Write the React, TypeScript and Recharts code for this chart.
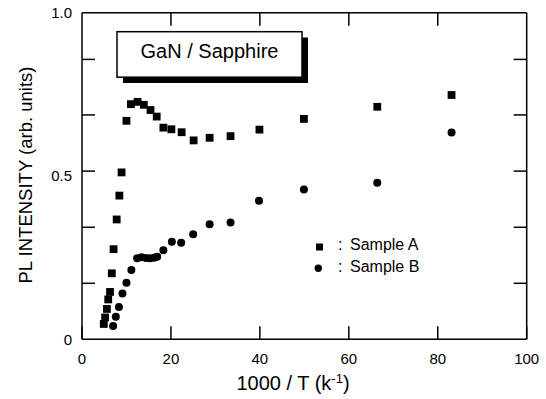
import React from 'react';
import { ScatterChart, Scatter, XAxis, YAxis, Customized } from 'recharts';

const F = '"Liberation Sans", Arial, Helvetica, sans-serif';

const xTicks = [0, 20, 40, 60, 80, 100];
const xMinorTicks = [20, 40, 60, 80];
const yLabelTicks = [0, 0.5, 1];
const yMarkTicks = [0.1715, 0.343, 0.515, 0.687, 0.857];

const sampleAx = [4.9, 5.2, 5.6, 5.9, 6.3, 6.7, 7.1, 7.8, 8.4, 8.9, 10.0, 11.0, 12.5, 13.9, 15.4, 16.8, 18.3, 20.1, 22.4, 25.1, 28.7, 33.4, 39.9, 49.9, 66.4, 83.1];
const sampleAy = [0.047, 0.067, 0.093, 0.122, 0.145, 0.202, 0.276, 0.367, 0.44, 0.511, 0.669, 0.72, 0.727, 0.718, 0.702, 0.682, 0.648, 0.643, 0.634, 0.609, 0.617, 0.622, 0.642, 0.675, 0.712, 0.748];
const sampleBx = [7.0, 7.6, 8.3, 9.1, 10.0, 11.1, 12.4, 13.4, 14.4, 15.3, 16.2, 16.9, 18.3, 20.2, 22.3, 25.0, 28.7, 33.4, 39.8, 49.9, 66.4, 83.1];
const sampleBy = [0.041, 0.069, 0.099, 0.14, 0.173, 0.212, 0.248, 0.251, 0.249, 0.248, 0.25, 0.253, 0.273, 0.299, 0.296, 0.322, 0.352, 0.358, 0.424, 0.459, 0.479, 0.633];

const seriesNames = ['Sample A', 'Sample B'];
const boxTitle = 'GaN / Sapphire';
const yTitle = 'PL INTENSITY (arb. units)';

const dataA = sampleAx.map((x, i) => ({ x, y: sampleAy[i] }));
const dataB = sampleBx.map((x, i) => ({ x, y: sampleBy[i] }));

const leftTicks = [...yLabelTicks, ...yMarkTicks].sort((a, b) => a - b);
const LEFT_MARGIN = 10;
const MARK_LEN = 13;

const SquareShape = (props: any) => {
  const { cx, cy } = props;
  if (cx == null || cy == null) return null;
  return <rect x={cx - 3.9} y={cy - 3.9} width={7.8} height={7.8} fill="#000" />;
};
const CircleShape = (props: any) => {
  const { cx, cy } = props;
  if (cx == null || cy == null) return null;
  return <circle cx={cx} cy={cy} r={4} fill="#000" />;
};

const noLabel = () => '';

const LeftTick = (props: any) => {
  const { x, y, payload } = props;
  const v = payload.value;
  if (yLabelTicks.includes(v)) {
    return (
      <text x={x} y={y} dy="0.355em" textAnchor="end" fill="#000" fontSize={15} fontFamily={F}>
        {v === 0 ? '0' : v.toFixed(1)}
      </text>
    );
  }
  const ax = x + LEFT_MARGIN;
  return <line x1={ax} x2={ax + MARK_LEN} y1={y} y2={y} stroke="#000" strokeWidth={1.5} />;
};

const Annotations = () => (
  <g fontFamily={F} fill="#000">
    <rect x={123} y={37.5} width={185} height={45.5} fill="#000" />
    <rect x={117} y={31.7} width={185} height={45.5} fill="#fff" stroke="#000" strokeWidth={1.5} />
    <text x={209.5} y={57.5} textAnchor="middle" fontSize={20}>{boxTitle}</text>

    <rect x={316} y={243.5} width={7} height={7} fill="#000" />
    <text x={338} y={250} fontSize={16}>:</text>
    <text x={350} y={250} fontSize={16}>{seriesNames[0]}</text>
    <circle cx={318.3} cy={268.3} r={3.7} fill="#000" />
    <text x={338} y={271.7} fontSize={16}>:</text>
    <text x={350} y={271.7} fontSize={16}>{seriesNames[1]}</text>

    <text x={32} y={175} textAnchor="middle" fontSize={18.5} transform="rotate(-90, 32, 175)">{yTitle}</text>
    <text x={293} y={390} textAnchor="middle" fontSize={20}>
      1000 / T (k<tspan fontSize={13} dy={-7}>-1</tspan><tspan dy={7}>)</tspan>
    </text>
  </g>
);

export default function App() {
  return (
    <div style={{ position: 'absolute', left: 0, top: 0, width: 546, height: 399 }}>
      <ScatterChart width={546} height={399} margin={{ top: 12.7, right: 19.3, bottom: 19.7, left: 22 }}>
        <XAxis
          xAxisId="b"
          type="number"
          dataKey="x"
          domain={[0, 100]}
          ticks={xTicks}
          interval={0}
          orientation="bottom"
          height={40}
          tickSize={-13}
          tickMargin={27}
          stroke="#000"
          strokeWidth={1.5}
          tick={{ fill: '#000', fontSize: 15, fontFamily: F }}
        />
        <XAxis
          xAxisId="t"
          type="number"
          dataKey="x"
          domain={[0, 100]}
          ticks={xMinorTicks}
          interval={0}
          orientation="top"
          mirror
          height={1}
          tickSize={13}
          stroke="#000"
          strokeWidth={1.5}
          tickFormatter={noLabel}
        />
        <YAxis
          yAxisId="l"
          type="number"
          dataKey="y"
          domain={[0, 1]}
          ticks={leftTicks}
          interval={0}
          width={60}
          tickSize={0}
          tickMargin={LEFT_MARGIN}
          stroke="#000"
          strokeWidth={1.5}
          tickLine={false}
          tick={LeftTick}
        />
        <YAxis
          yAxisId="r"
          type="number"
          dataKey="y"
          domain={[0, 1]}
          ticks={yMarkTicks}
          interval={0}
          orientation="right"
          mirror
          width={1}
          tickSize={13}
          stroke="#000"
          strokeWidth={1.5}
          tickFormatter={noLabel}
        />
        <Scatter xAxisId="b" yAxisId="l" name={seriesNames[0]} data={dataA} shape={SquareShape} isAnimationActive={false} />
        <Scatter xAxisId="t" yAxisId="r" name={seriesNames[1]} data={dataB} shape={CircleShape} isAnimationActive={false} />
        <Customized component={Annotations} />
      </ScatterChart>
    </div>
  );
}
